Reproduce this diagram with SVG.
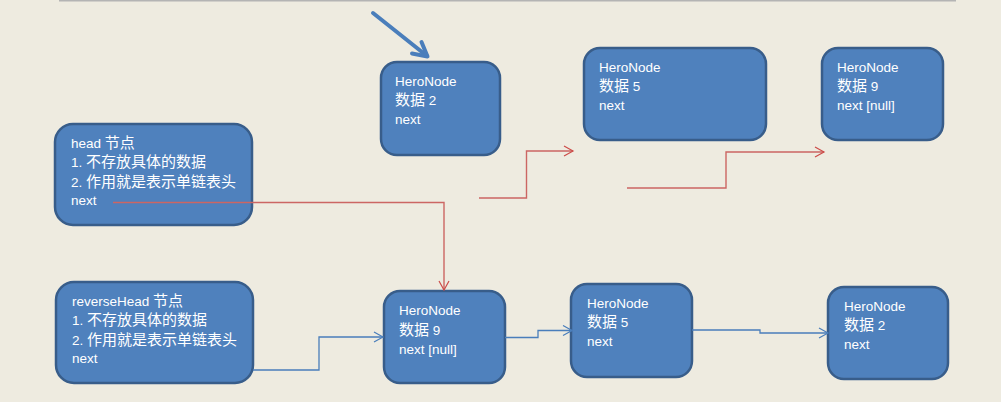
<svg xmlns="http://www.w3.org/2000/svg" width="1001" height="402" viewBox="0 0 1001 402">
<defs>
<style>
.bg{fill:#EEEBE0}
.node{fill:#4F81BD;stroke:#385D8A;stroke-width:2.5}
.t{font-family:"Liberation Sans","Noto Sans CJK SC",sans-serif;font-size:13.5px;fill:#FFFFFF}
.cj{font-size:15px}
.red{fill:none;stroke:#CC6663;stroke-width:1.4}
.blue{fill:none;stroke:#4A7EBB;stroke-width:1.3}
</style>
<marker id="ar" markerWidth="12" markerHeight="12" refX="10" refY="6" orient="auto" markerUnits="userSpaceOnUse">
<path d="M1,1 L10,6 L1,11" fill="none" stroke="#CC4B48" stroke-width="1.2"/>
</marker>
<marker id="ab" markerWidth="12" markerHeight="12" refX="10" refY="6" orient="auto" markerUnits="userSpaceOnUse">
<path d="M1,1 L10,6 L1,11" fill="none" stroke="#4A7EBB" stroke-width="1.2"/>
</marker>
</defs>
<rect class="bg" x="0" y="0" width="1001" height="402"/>
<line x1="59" y1="0.8" x2="956" y2="0.8" stroke="#B4B4B4" stroke-width="1.6"/>

<g id="head">
<rect class="node" x="55" y="124" width="197" height="101" rx="18"/>
<text class="t" x="71" y="148">head <tspan class="cj">节点</tspan></text>
<text class="t" x="71" y="167">1. <tspan class="cj">不存放具体的数据</tspan></text>
<text class="t" x="71" y="187">2. <tspan class="cj">作用就是表示单链表头</tspan></text>
<text class="t" x="71" y="205">next</text>
</g>

<g id="top2">
<rect class="node" x="381" y="62" width="119" height="93" rx="16"/>
<text class="t" x="395" y="86">HeroNode</text>
<text class="t" x="395" y="105"><tspan class="cj">数据</tspan> 2</text>
<text class="t" x="395" y="124">next</text>
</g>

<g id="top5">
<rect class="node" x="584" y="48" width="182" height="92" rx="16"/>
<text class="t" x="599" y="72">HeroNode</text>
<text class="t" x="599" y="91"><tspan class="cj">数据</tspan> 5</text>
<text class="t" x="599" y="110">next</text>
</g>

<g id="top9">
<rect class="node" x="822" y="48" width="121" height="92" rx="16"/>
<text class="t" x="837" y="72">HeroNode</text>
<text class="t" x="837" y="91"><tspan class="cj">数据</tspan> 9</text>
<text class="t" x="837" y="110">next [null]</text>
</g>

<g id="reverseHead">
<rect class="node" x="56" y="282" width="197" height="101" rx="18"/>
<text class="t" x="72" y="306">reverseHead <tspan class="cj">节点</tspan></text>
<text class="t" x="72" y="325">1. <tspan class="cj">不存放具体的数据</tspan></text>
<text class="t" x="72" y="345">2. <tspan class="cj">作用就是表示单链表头</tspan></text>
<text class="t" x="72" y="363">next</text>
</g>

<g id="bot9">
<rect class="node" x="384" y="291" width="121" height="92" rx="16"/>
<text class="t" x="399" y="315">HeroNode</text>
<text class="t" x="399" y="335"><tspan class="cj">数据</tspan> 9</text>
<text class="t" x="399" y="354">next [null]</text>
</g>

<g id="bot5">
<rect class="node" x="571" y="284" width="121" height="93" rx="16"/>
<text class="t" x="587" y="308">HeroNode</text>
<text class="t" x="587" y="327"><tspan class="cj">数据</tspan> 5</text>
<text class="t" x="587" y="346">next</text>
</g>

<g id="bot2">
<rect class="node" x="828" y="287" width="120" height="92" rx="16"/>
<text class="t" x="844" y="311">HeroNode</text>
<text class="t" x="844" y="330"><tspan class="cj">数据</tspan> 2</text>
<text class="t" x="844" y="349">next</text>
</g>

<g id="connectors">
<path class="red" d="M113,202.5 H444 V290" marker-end="url(#ar)"/>
<path class="red" d="M479,198 H526.5 V151 H573" marker-end="url(#ar)"/>
<path class="red" d="M627,188 H726 V152 H824" marker-end="url(#ar)"/>
<path class="blue" d="M253,370 H319 V337 H383" marker-end="url(#ab)"/>
<path class="blue" d="M505,337.5 H538 V330.5 H572" marker-end="url(#ab)"/>
<path class="blue" d="M692,330 H760 V333 H828" marker-end="url(#ab)"/>
<g id="pointer" fill="none" stroke="#4A7EBB" stroke-width="4" stroke-linecap="round" stroke-linejoin="round">
<line x1="373" y1="13" x2="427" y2="56"/>
<path d="M421.5,42 L427.5,56.5 L412,53.5"/>
</g>
</g>
</svg>
